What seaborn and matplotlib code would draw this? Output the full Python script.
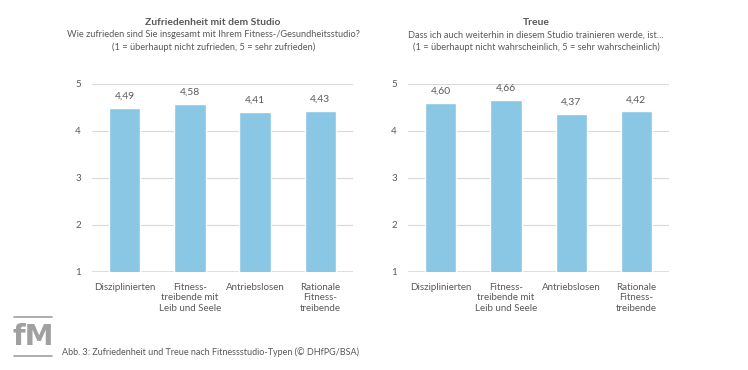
import matplotlib
matplotlib.use("Agg")
import matplotlib.pyplot as plt
import seaborn as sns
import pandas as pd

# data
categories = ["Disziplinierten", "Fitness-\ntreibende mit\nLeib und Seele",
              "Antriebslosen", "Rationale\nFitness-\ntreibende"]
zufriedenheit = [4.49, 4.58, 4.41, 4.43]
treue = [4.60, 4.66, 4.37, 4.42]
yticks = [1, 2, 3, 4, 5]

panels = [
    ("Zufriedenheit mit dem Studio",
     "Wie zufrieden sind Sie insgesamt mit Ihrem Fitness-/Gesundheitsstudio?\n"
     "(1 = überhaupt nicht zufrieden, 5 = sehr zufrieden)", zufriedenheit),
    ("Treue",
     "Dass ich auch weiterhin in diesem Studio trainieren werde, ist…\n"
     "(1 = überhaupt nicht wahrscheinlich, 5 = sehr wahrscheinlich)", treue),
]

sns.set_style("white")
plt.rcParams['font.family'] = ['Lato', 'DejaVu Sans']
txt = '#595959'
bar_color = '#89C7E4'

fig = plt.figure(figsize=(7.48, 3.7), dpi=100)
positions = [[0.123, 0.265, 0.349, 0.508], [0.5455, 0.265, 0.349, 0.508]]
title_x = [0.285, 0.717]

for (title, sub, vals), pos, tx in zip(panels, positions, title_x):
    ax = fig.add_axes(pos)
    df = pd.DataFrame({'cat': categories, 'val': vals})
    sns.barplot(data=df, x='cat', y='val', color=bar_color, width=0.48,
                saturation=1, ax=ax)
    ax.set_ylim(1, 5)
    ax.set_yticks(yticks)
    ax.grid(axis='y', color='#d9d9d9', linewidth=0.8)
    ax.set_axisbelow(True)
    for s in ax.spines.values():
        s.set_visible(False)
    ax.axhline(1, color='#d9d9d9', linewidth=1.2, zorder=0)
    ax.tick_params(axis='both', length=0, colors=txt, labelsize=7)
    ax.tick_params(axis='y', pad=8)
    ax.tick_params(axis='x', pad=8)
    ax.set_xlabel('')
    ax.set_ylabel('')
    ax.bar_label(ax.containers[0], labels=[f"{v:.2f}".replace('.', ',') for v in vals],
                 padding=5, fontsize=7.5, color=txt)
    fig.text(tx, 0.94, title, ha='center', va='center', fontsize=7.4,
             fontweight='bold', color=txt)
    fig.text(tx, 0.918, sub, ha='center', va='top', fontsize=6.7, color=txt,
             linespacing=1.45)

# caption and logo
fig.text(0.083, 0.048, "Abb. 3: Zufriedenheit und Treue nach Fitnessstudio-Typen (© DHfPG/BSA)",
         ha='left', va='center', fontsize=6.5, color=txt)
fig.text(0.044, 0.088, "fM", ha='center', va='center', fontsize=21,
         fontweight='bold', color='#a0a0a0', family='Liberation Sans Narrow')
fig.add_artist(plt.Line2D([0.019, 0.07], [0.142, 0.142], color='#a0a0a0', lw=1.2))
fig.add_artist(plt.Line2D([0.019, 0.07], [0.038, 0.038], color='#a0a0a0', lw=1.2))

fig.savefig("out.png", dpi=100)
